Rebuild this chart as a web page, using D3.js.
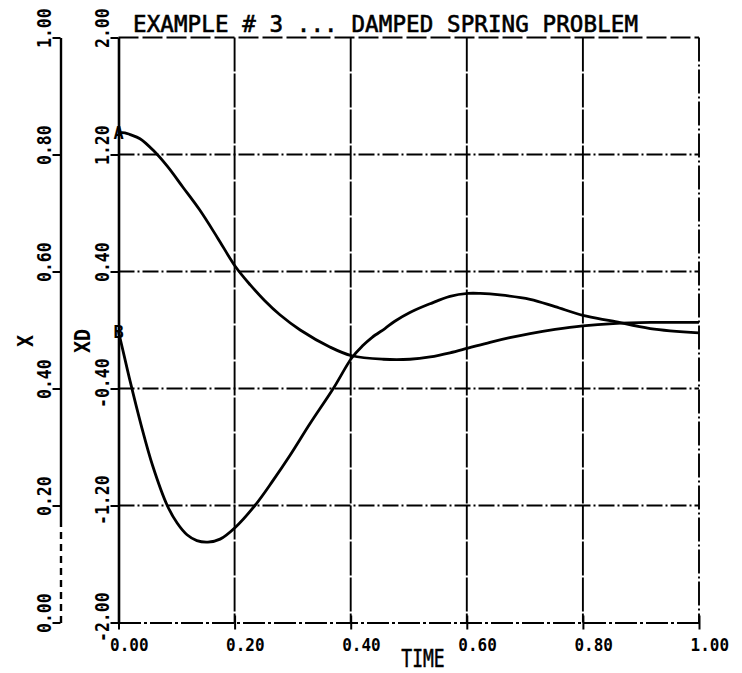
<!DOCTYPE html>
<html><head><meta charset="utf-8">
<script src="https://cdn.jsdelivr.net/npm/d3@7"></script>
<style>
html,body{margin:0;padding:0;background:#fff;}
svg{display:block;background:#fff;}
text{font-family:"DejaVu Sans Mono","Liberation Mono",monospace;fill:#000;font-weight:bold;}
</style></head><body>
<svg id="chart" width="742" height="673"></svg>
<script>
// ---- data ----
const titleText = "EXAMPLE # 3 ... DAMPED SPRING PROBLEM";
const xAxisTitle = "TIME";
const leftAxisTitle = "X";
const rightAxisTitle = "XD";
const timeTicks = [0, 0.2, 0.4, 0.6, 0.8, 1.0];
const timeTickLabels = ["0.00", "0.20", "0.40", "0.60", "0.80", "1.00"];
const xTicks = [0, 0.2, 0.4, 0.6, 0.8, 1.0];
const xTickLabels = ["0.00", "0.20", "0.40", "0.60", "0.80", "1.00"];
const xdTicks = [-2, -1.2, -0.4, 0.4, 1.2, 2];
const xdTickLabels = ["-2.00", "-1.20", "-0.40", "0.40", "1.20", "2.00"];

// curve A : X (left axis)
const timeX  = [0.000, 0.011, 0.020, 0.037, 0.059, 0.084, 0.111, 0.140, 0.171, 0.201, 0.227, 0.252, 0.278, 0.313, 0.364, 0.402, 0.456, 0.502, 0.537, 0.571, 0.602, 0.640, 0.674, 0.709, 0.752, 0.800, 0.852, 0.916, 1.000];
const valuesX = [0.837, 0.837, 0.834, 0.827, 0.808, 0.780, 0.744, 0.705, 0.657, 0.609, 0.577, 0.550, 0.526, 0.500, 0.471, 0.456, 0.450, 0.450, 0.454, 0.461, 0.469, 0.479, 0.487, 0.494, 0.501, 0.507, 0.511, 0.513, 0.513];
// curve B : XD (second axis)
const timeXD  = [0.000, 0.010, 0.020, 0.039, 0.059, 0.084, 0.101, 0.118, 0.135, 0.154, 0.175, 0.201, 0.235, 0.266, 0.295, 0.330, 0.370, 0.402, 0.420, 0.437, 0.459, 0.476, 0.502, 0.537, 0.571, 0.602, 0.623, 0.657, 0.709, 0.752, 0.800, 0.852, 0.916, 1.000];
const valuesXD = [-0.01, -0.18, -0.35, -0.65, -0.93, -1.20, -1.32, -1.40, -1.44, -1.45, -1.43, -1.35, -1.20, -1.03, -0.86, -0.64, -0.40, -0.19, -0.11, -0.05, 0.01, 0.06, 0.12, 0.18, 0.23, 0.25, 0.25, 0.24, 0.21, 0.16, 0.10, 0.06, 0.01, -0.02];
const markerA = "A";
const markerB = "B";

// ---- chart ----
const svg = d3.select("#chart");
const xS  = d3.scaleLinear().domain([0, 1]).range([118.5, 699]);
const yX  = d3.scaleLinear().domain([0, 1]).range([622.5, 37.5]);
const yXD = d3.scaleLinear().domain([-2, 2]).range([622.5, 37.5]);

// grid
svg.append("g").selectAll("line")
  .data(xdTicks.filter(d => Math.abs(d) < 2)).join("line")
  .attr("x1", xS(0)).attr("x2", xS(1))
  .attr("y1", d => yXD(d)).attr("y2", d => yXD(d))
  .attr("stroke", "#000").attr("stroke-width", 1.9)
  .attr("stroke-dasharray", "16,3,2,3");
svg.append("g").selectAll("line")
  .data(timeTicks.filter(d => d > 0 && d < 1)).join("line")
  .attr("x1", d => xS(d)).attr("x2", d => xS(d))
  .attr("y1", yXD(2)).attr("y2", yXD(-2))
  .attr("stroke", "#000").attr("stroke-width", 1.9)
  .attr("stroke-dasharray", "34,2");
// frame top and right
svg.append("line").attr("x1", xS(0)).attr("x2", xS(1)).attr("y1", yXD(2)).attr("y2", yXD(2))
  .attr("stroke", "#000").attr("stroke-width", 1.9).attr("stroke-dasharray", "20,4");
svg.append("line").attr("x1", xS(1)).attr("x2", xS(1)).attr("y1", yXD(2)).attr("y2", yXD(-2))
  .attr("stroke", "#000").attr("stroke-width", 1.9).attr("stroke-dasharray", "24,3,2,3");

// left X axis
const gX = svg.append("g").attr("transform", "translate(60.5,0)")
  .call(d3.axisLeft(yX).tickValues(xTicks).tickFormat((d, i) => xTickLabels[i]).tickSize(8).tickSizeOuter(0));
gX.select(".domain").attr("stroke-width", 2.4)
  .attr("stroke-dasharray", "7,5,7,5,7,5,7,5,7,5,7,5,7,5,7,5,700");
gX.selectAll(".tick line").attr("stroke-width", 2);
gX.selectAll(".tick text")
  .attr("x", null).attr("dy", null).attr("text-anchor", "start")
  .style("font-size", "16.5px")
  .attr("transform", d => `translate(-10,${d < 0 ? 19 : 10}) rotate(-90) scale(1,1.2)`);

// XD axis
const gXD = svg.append("g").attr("transform", "translate(118.5,0)")
  .call(d3.axisLeft(yXD).tickValues(xdTicks).tickFormat((d, i) => xdTickLabels[i]).tickSize(8).tickSizeOuter(0));
gXD.select(".domain").attr("stroke-width", 2.6);
gXD.selectAll(".tick line").attr("stroke-width", 2);
gXD.selectAll(".tick text")
  .attr("x", null).attr("dy", null).attr("text-anchor", "start")
  .style("font-size", "16.5px")
  .attr("transform", d => `translate(-10,${d < 0 ? 19 : 10}) rotate(-90) scale(1,1.2)`);

// bottom TIME axis
const gT = svg.append("g").attr("transform", "translate(0,622.5)")
  .call(d3.axisBottom(xS).tickValues(timeTicks).tickFormat((d, i) => timeTickLabels[i]).tickSize(7).tickSizeOuter(0));
gT.select(".domain").attr("stroke-width", 2.2).attr("stroke-dasharray", "22,3,3,3");
gT.selectAll(".tick line").attr("y1", -7).attr("y2", 7).attr("stroke-width", 2);
gT.selectAll(".tick text")
  .attr("x", null).attr("y", null).attr("dy", null).attr("text-anchor", "start")
  .style("font-size", "16px")
  .attr("transform", "translate(-9,28) scale(1,1.15)");

// curves
const dataX = timeX.map((t, i) => ({ t, v: valuesX[i] }));
const dataXD = timeXD.map((t, i) => ({ t, v: valuesXD[i] }));
svg.append("path").datum(dataX)
  .attr("fill", "none").attr("stroke", "#000").attr("stroke-width", 2.8)
  .attr("d", d3.line().x(d => xS(d.t)).y(d => yX(d.v)).curve(d3.curveCatmullRom.alpha(0.5)));
svg.append("path").datum(dataXD)
  .attr("fill", "none").attr("stroke", "#000").attr("stroke-width", 2.8)
  .attr("d", d3.line().x(d => xS(d.t)).y(d => yXD(d.v)).curve(d3.curveCatmullRom.alpha(0.5)));

// markers
svg.append("text").attr("x", xS(timeX[0])).attr("y", yX(valuesX[0]) + 6)
  .attr("text-anchor", "middle").style("font-size", "17px").text(markerA);
svg.append("text").attr("x", xS(timeXD[0])).attr("y", yXD(valuesXD[0]) + 7)
  .attr("text-anchor", "middle").style("font-size", "17px").text(markerB);

// titles
svg.append("text").attr("x", 133).attr("y", 32)
  .style("font-size", "22.5px").style("font-weight", "normal")
  .attr("textLength", 505).attr("lengthAdjust", "spacing")
  .attr("stroke", "#000").attr("stroke-width", 0.6)
  .text(titleText);
svg.append("text").attr("transform", "translate(423,667) scale(1,1.35)")
  .attr("text-anchor", "middle").style("font-size", "18px").style("font-weight", "normal")
  .attr("stroke", "#000").attr("stroke-width", 0.4).text(xAxisTitle);
svg.append("text").attr("transform", "translate(33,341) rotate(-90) scale(1,1.1)")
  .attr("text-anchor", "middle").style("font-size", "20px").text(leftAxisTitle);
svg.append("text").attr("transform", "translate(90,341) rotate(-90) scale(1,1.1)")
  .attr("text-anchor", "middle").style("font-size", "20px").text(rightAxisTitle);
</script>
</body></html>
